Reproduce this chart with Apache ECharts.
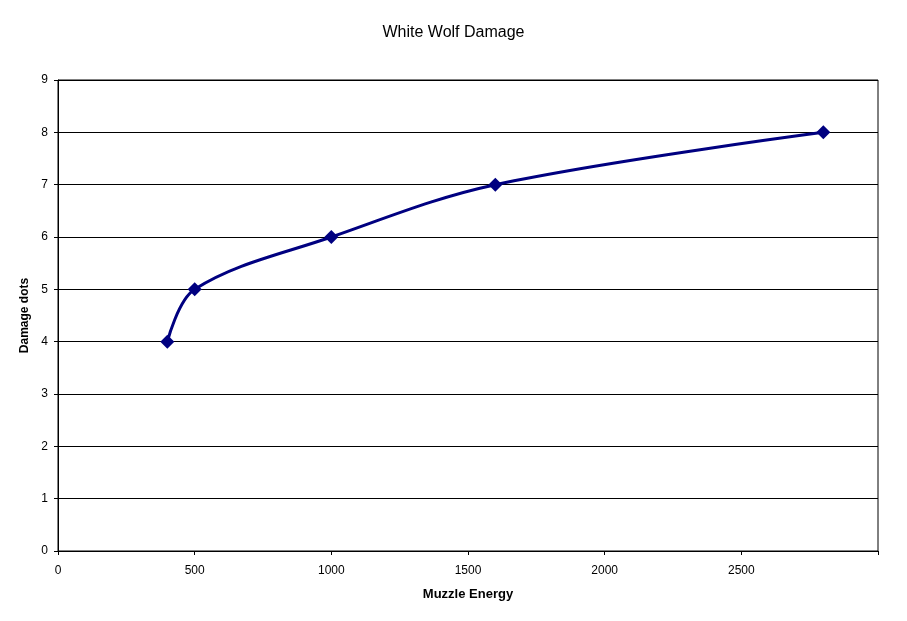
<!DOCTYPE html>
<html>
<head>
<meta charset="utf-8">
<script src="https://cdn.jsdelivr.net/npm/echarts@6/dist/echarts.min.js"></script>
<style>
  html, body { margin: 0; padding: 0; background: #fff; }
  #chart { width: 907px; height: 621px; }
</style>
</head>
<body>
<div id="chart"></div>
<script>
const energy = [400, 500, 1000, 1600, 2800]
const damageDots = [4, 5, 6, 7, 8]
const xTicks = [0, 500, 1000, 1500, 2000, 2500]

const chart = echarts.init(document.getElementById('chart'))

const font = 'Arial, "Liberation Sans", sans-serif'

chart.setOption({
  backgroundColor: '#fff',
  animation: false,
  title: {
    text: 'White Wolf Damage',
    left: 'center',
    top: 20,
    textStyle: { fontFamily: font, fontSize: 16, fontWeight: 'normal', color: '#000' }
  },
  grid: {
    left: 58,
    right: 29,
    top: 80,
    bottom: 70,
    show: true,
    borderColor: '#000',
    borderWidth: 1
  },
  xAxis: {
    type: 'value',
    min: 0,
    max: 3000,
    interval: 500,
    name: 'Muzzle Energy',
    nameLocation: 'middle',
    nameGap: 37,
    nameTextStyle: { fontFamily: font, fontSize: 13, fontWeight: 'bold', color: '#000' },
    axisLine: { show: true, lineStyle: { color: '#000', width: 1 } },
    axisTick: { show: true, length: 4, lineStyle: { color: '#000' } },
    axisLabel: {
      fontFamily: font, fontSize: 12, color: '#000', margin: 14,
      formatter: v => (xTicks.includes(v) ? String(v) : '')
    },
    splitLine: { show: false }
  },
  yAxis: {
    type: 'value',
    min: 0,
    max: 9,
    interval: 1,
    name: 'Damage dots',
    nameLocation: 'middle',
    nameGap: 23,
    nameTextStyle: { fontFamily: font, fontSize: 12, fontWeight: 'bold', color: '#000' },
    axisLine: { show: true, lineStyle: { color: '#000', width: 1 } },
    axisTick: { show: true, length: 4, lineStyle: { color: '#000' } },
    axisLabel: { fontFamily: font, fontSize: 12, color: '#000', margin: 10 },
    splitLine: { show: true, lineStyle: { color: '#000', width: 1 } }
  },
  series: [
    {
      type: 'line',
      data: energy.map((x, i) => [x, damageDots[i]]),
      smooth: 0.35,
      symbol: 'diamond',
      symbolSize: 14,
      itemStyle: { color: '#000080' },
      lineStyle: { color: '#000080', width: 3 }
    }
  ]
})
</script>
</body>
</html>
